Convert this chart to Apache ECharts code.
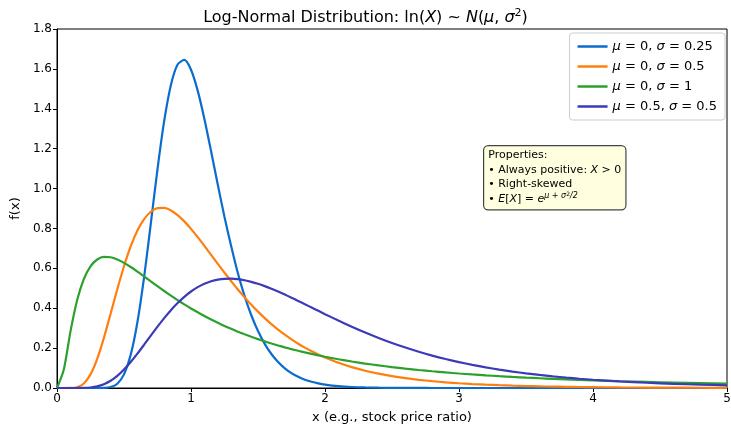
<!DOCTYPE html>
<html>
<head>
<meta charset="utf-8">
<script src="https://cdn.jsdelivr.net/npm/echarts@6/dist/echarts.min.js"></script>
<style>
html,body{margin:0;padding:0;background:#fff;}
#chart{width:731px;height:427px;}
</style>
</head>
<body>
<div id="chart"></div>
<script>
// x positions (shared by all series)
var xs = [0,0.05,0.1,0.15,0.2,0.25,0.3,0.35,0.4,0.45,0.5,0.55,0.6,0.65,0.7,0.75,0.8,0.85,0.9,0.95,
  1.0,1.05,1.1,1.15,1.2,1.25,1.3,1.35,1.4,1.45,1.5,1.55,1.6,1.65,1.7,1.75,1.8,1.85,1.9,1.95,
  2.0,2.1,2.2,2.3,2.4,2.5,2.6,2.7,2.8,2.9,3.0,3.1,3.2,3.3,3.4,3.5,3.6,3.7,3.8,3.9,4.0,4.2,4.4,4.6,4.8,5.0];

var seriesNames = ['μ = 0, σ = 0.25', 'μ = 0, σ = 0.5', 'μ = 0, σ = 1', 'μ = 0.5, σ = 0.5'];
var legendRich = [
  ['0', '0.25'], ['0', '0.5'], ['0', '1'], ['0.5', '0.5']
];

var s1 = [0,0,0,0,0,0,0.0000,0.0007,0.0048,0.0216,0.0683,0.1663,0.3298,0.5563,0.8239,1.0975,1.3393,1.5198,1.6224,1.6448,
  1.5958,1.4911,1.3490,1.1869,1.0193,0.8571,0.7106,0.5751,0.4608,0.3647,0.2856,0.2215,0.1704,0.1301,0.0987,0.0744,0.0559,0.0418,0.0311,0.0231,
  0.0171,0.0093,0.0050,0.0027,0.0014,0.0008,0.0004,0.0002,0.0001,0,0,0,0,0,0,0,0,0,0,0,0,0,0,0,0,0];

var s2 = [0,0,0.0002,0.0040,0.0225,0.0683,0.1465,0.2515,0.3721,0.4953,0.6105,0.7098,0.7892,0.8469,0.8838,0.9016,0.9028,0.8904,0.8671,0.8355,
  0.7979,0.7563,0.7123,0.6672,0.6221,0.5778,0.5354,0.4936,0.4544,0.4175,0.3829,0.3506,0.3206,0.2928,0.2673,0.2437,0.2221,0.2023,0.1842,0.1677,
  0.1526,0.1264,0.1046,0.0866,0.0718,0.0595,0.0494,0.0411,0.0342,0.0285,0.0238,0.0199,0.0167,0.0140,0.0117,0.0099,0.0083,0.0070,0.0059,0.0050,0.0043,0.0031,0.0022,0.0016,0.0012,0.0009];

var s3 = [0,0.0898,0.2815,0.4398,0.5462,0.6104,0.6442,0.6570,0.6555,0.6445,0.6275,0.6067,0.5836,0.5594,0.5348,0.5104,0.4864,0.4632,0.4408,0.4194,
  0.3989,0.3795,0.3610,0.3435,0.3270,0.3113,0.2966,0.2825,0.2693,0.2568,0.2450,0.2338,0.2233,0.2133,0.2039,0.1949,0.1865,0.1785,0.1709,0.1637,
  0.1569,0.1443,0.1329,0.1226,0.1133,0.1049,0.0972,0.0902,0.0839,0.0780,0.0727,0.0679,0.0634,0.0593,0.0555,0.0520,0.0488,0.0458,0.0431,0.0405,0.0382,0.0339,0.0303,0.0271,0.0243,0.0219];

var s4 = [0,0,0,0.0001,0.0005,0.0026,0.0080,0.0187,0.0361,0.0608,0.0926,0.1302,0.1723,0.2170,0.2627,0.3076,0.3505,0.3902,0.4260,0.4573,
  0.4839,0.5057,0.5227,0.5352,0.5434,0.5476,0.5482,0.5456,0.5402,0.5324,0.5225,0.5108,0.4978,0.4836,0.4685,0.4527,0.4365,0.4200,0.4034,0.3868,
  0.3703,0.3380,0.3071,0.2779,0.2508,0.2257,0.2027,0.1817,0.1626,0.1454,0.1299,0.1160,0.1035,0.0923,0.0823,0.0734,0.0654,0.0584,0.0521,0.0465,0.0415,0.0331,0.0264,0.0211,0.0169,0.0136];

var colors = ['#0a6ccf', '#ff7f0e', '#2ca02c', '#3b3bb8'];
var allSeries = [s1, s2, s3, s4];

function pairs(ys) { return xs.map(function (x, i) { return [x, ys[i]]; }); }

var FONT = 'DejaVu Sans';
var chart = echarts.init(document.getElementById('chart'), null, {renderer: 'canvas'});

var option = {
  backgroundColor: '#fff',
  animation: false,
  color: colors,
  title: {
    text: '{n|Log-Normal Distribution: ln(}{i|X}{n|) ~ }{i|N}{n|(}{i|μ}{n|, }{i|σ}{s|2}{n|)}',
    left: 'center',
    top: 3,
    textStyle: {
      fontWeight: 'normal',
      rich: {
        n: {fontFamily: FONT, fontSize: 16, fontWeight: 'normal', color: '#000'},
        i: {fontFamily: FONT, fontSize: 16, fontWeight: 'normal', fontStyle: 'italic', color: '#000'},
        s: {fontFamily: FONT, fontSize: 11, fontWeight: 'normal', color: '#000', verticalAlign: 'top', padding: [0, 0, 8, 0]}
      }
    }
  },
  grid: {left: 57, right: 4, top: 29, bottom: 39, show: true, borderColor: '#000', borderWidth: 1,
    containLabel: false, outerBoundsMode: 'none'},
  legend: {
    data: seriesNames,
    orient: 'vertical',
    right: 6,
    top: 33,
    icon: 'rect',
    itemWidth: 30,
    itemHeight: 2.5,
    itemGap: 7,
    padding: [7, 8, 7, 8],
    backgroundColor: 'rgba(255,255,255,0.85)',
    borderColor: '#cccccc',
    borderWidth: 1,
    borderRadius: 3,
    formatter: function (name) {
      var k = seriesNames.indexOf(name);
      var p = legendRich[k];
      return '{i|μ}{n| = ' + p[0] + ', }{i|σ}{n| = ' + p[1] + '}';
    },
    textStyle: {
      rich: {
        n: {fontFamily: FONT, fontSize: 13, color: '#000', lineHeight: 14},
        i: {fontFamily: FONT, fontSize: 13, fontStyle: 'italic', color: '#000', lineHeight: 14}
      }
    }
  },
  xAxis: {
    type: 'value', min: 0, max: 5, interval: 1,
    name: 'x (e.g., stock price ratio)', nameLocation: 'middle', nameGap: 23,
    nameTextStyle: {fontFamily: FONT, fontSize: 13, color: '#000'},
    axisLine: {show: true, lineStyle: {color: '#000', width: 1}},
    axisTick: {show: true, length: 4, lineStyle: {color: '#000'}},
    axisLabel: {fontFamily: FONT, fontSize: 12, color: '#000', margin: 5},
    splitLine: {show: false}
  },
  yAxis: {
    type: 'value', min: 0, max: 1.8, interval: 0.2,
    name: 'f(x)', nameLocation: 'middle', nameGap: 34,
    nameTextStyle: {fontFamily: FONT, fontSize: 13, color: '#000'},
    axisLine: {show: true, lineStyle: {color: '#000', width: 1}},
    axisTick: {show: true, length: 4, lineStyle: {color: '#000'}},
    axisLabel: {fontFamily: FONT, fontSize: 12, color: '#000', margin: 5,
      formatter: function (v) { return v.toFixed(1); }},
    splitLine: {show: false}
  },
  series: allSeries.map(function (ys, k) {
    return {
      name: seriesNames[k],
      type: 'line',
      data: pairs(ys),
      smooth: 0.25,
      showSymbol: false,
      clip: true,
      lineStyle: {width: 2.2, color: colors[k]},
      itemStyle: {color: colors[k]},
      z: 2 + k
    };
  }),
  graphic: [{
    type: 'text',
    left: 483,
    top: 145,
    z: 100,
    style: {
      text: '{n|Properties:}\n{n|• Always positive: }{i|X}{n| > 0}\n{n|• Right-skewed}\n{n|• }{i|E}{n|[}{i|X}{n|] = }{i|e}{sup|μ + σ}{sup2|2}{sup|/2}',
      backgroundColor: '#ffffe0',
      borderColor: '#444',
      borderWidth: 1.2,
      borderRadius: 4,
      padding: [2, 4, 3, 4],
      rich: {
        n: {fontFamily: FONT, fontSize: 11, fill: '#000', lineHeight: 14.5},
        i: {fontFamily: FONT, fontSize: 11, fontStyle: 'italic', fill: '#000', lineHeight: 14.5},
        sup: {fontFamily: FONT, fontSize: 8, fontStyle: 'italic', fill: '#000', verticalAlign: 'top', lineHeight: 14.5, padding: [0, 0, 6, 0]},
        sup2: {fontFamily: FONT, fontSize: 6, fill: '#000', verticalAlign: 'top', lineHeight: 14.5, padding: [0, 0, 9, 0]}
      }
    }
  }]
};
chart.setOption(option);
</script>
</body>
</html>
